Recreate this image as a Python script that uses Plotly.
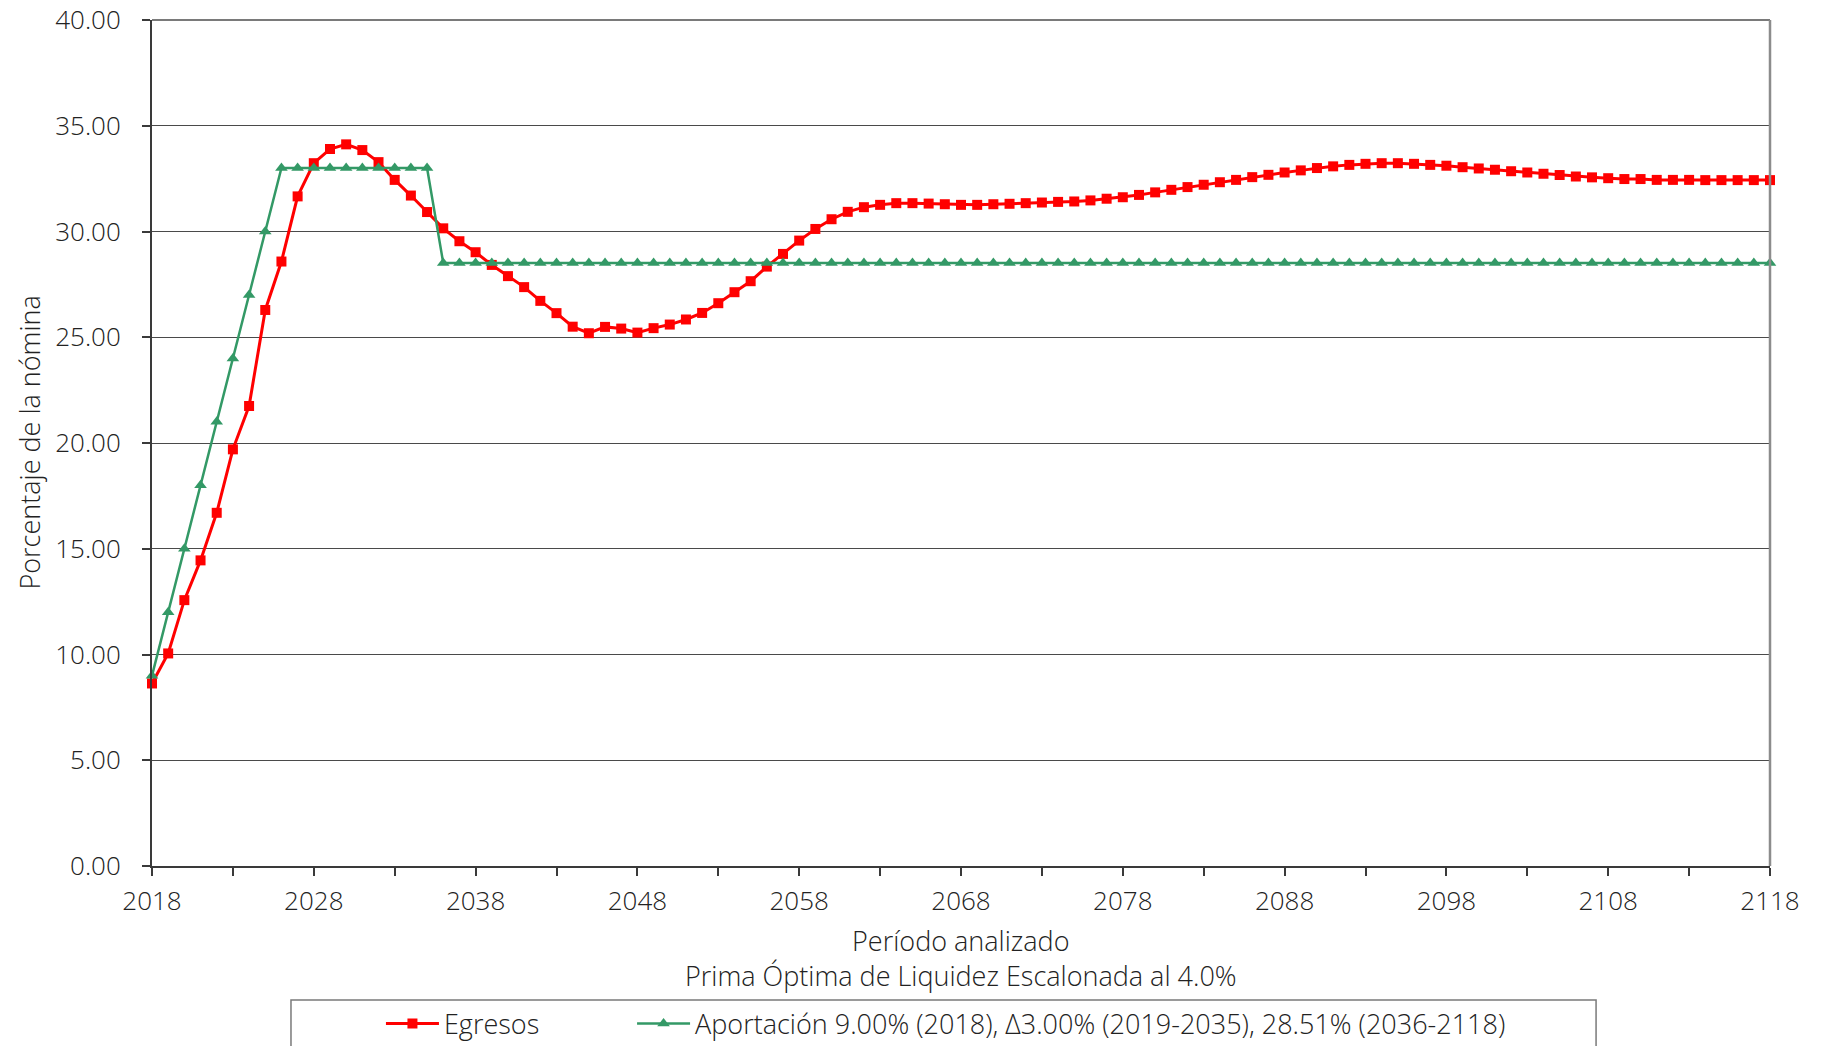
import plotly.graph_objects as go

# Años del período analizado
years = list(range(2018, 2119))

# Egresos como porcentaje de la nómina
egresos = [
    8.63, 10.05, 12.57, 14.45, 16.70, 19.70, 21.75, 26.29, 28.58, 31.66,
    33.23, 33.90, 34.12, 33.85, 33.28, 32.44, 31.70, 30.92, 30.15, 29.54,
    29.02, 28.42, 27.89, 27.37, 26.72, 26.14, 25.50, 25.19, 25.49, 25.41,
    25.22, 25.43, 25.60, 25.84, 26.15, 26.61, 27.13, 27.65, 28.34, 28.94,
    29.57, 30.12, 30.58, 30.93, 31.15, 31.26, 31.34, 31.34, 31.32, 31.29,
    31.26, 31.26, 31.29, 31.31, 31.34, 31.37, 31.40, 31.42, 31.47, 31.55,
    31.62, 31.73, 31.85, 31.97, 32.10, 32.21, 32.33, 32.44, 32.57, 32.68,
    32.79, 32.89, 33.00, 33.08, 33.15, 33.20, 33.23, 33.23, 33.20, 33.15,
    33.11, 33.04, 32.98, 32.92, 32.85, 32.79, 32.73, 32.67, 32.60, 32.56,
    32.52, 32.48, 32.48, 32.44, 32.44, 32.44, 32.43, 32.43, 32.43, 32.43,
    32.43,
]

# Aportación escalonada: 9.00% (2018), +3.00% anual hasta 33.00%, 28.51% desde 2036
aportacion = [
    9.00, 12.00, 15.00, 18.00, 21.00, 24.00, 27.00, 30.00, 33.00, 33.00,
    33.00, 33.00, 33.00, 33.00, 33.00, 33.00, 33.00, 33.00, 28.51, 28.51,
    28.51, 28.51, 28.51, 28.51, 28.51, 28.51, 28.51, 28.51, 28.51, 28.51,
    28.51, 28.51, 28.51, 28.51, 28.51, 28.51, 28.51, 28.51, 28.51, 28.51,
    28.51, 28.51, 28.51, 28.51, 28.51, 28.51, 28.51, 28.51, 28.51, 28.51,
    28.51, 28.51, 28.51, 28.51, 28.51, 28.51, 28.51, 28.51, 28.51, 28.51,
    28.51, 28.51, 28.51, 28.51, 28.51, 28.51, 28.51, 28.51, 28.51, 28.51,
    28.51, 28.51, 28.51, 28.51, 28.51, 28.51, 28.51, 28.51, 28.51, 28.51,
    28.51, 28.51, 28.51, 28.51, 28.51, 28.51, 28.51, 28.51, 28.51, 28.51,
    28.51, 28.51, 28.51, 28.51, 28.51, 28.51, 28.51, 28.51, 28.51, 28.51,
    28.51,
]

serie_egresos = "Egresos"
serie_aportacion = "Aportación 9.00% (2018), Δ3.00% (2019-2035), 28.51% (2036-2118)"
titulo_x = "Período analizado"
subtitulo_x = "Prima Óptima de Liquidez Escalonada al 4.0%"
titulo_y = "Porcentaje de la nómina"
x_ticks = [2018, 2028, 2038, 2048, 2058, 2068, 2078, 2088, 2098, 2108, 2118]
y_ticks = [0, 5, 10, 15, 20, 25, 30, 35, 40]

FONT = "Open Sans"
FS_TICK = 26
FS_TEXT = 27
TXT = "#222222"
AXIS = "#3a3a3a"


def txt_font(size=FS_TEXT):
    return dict(family=FONT, size=size, color=TXT, weight=300)


fig = go.Figure()
fig.add_trace(go.Scatter(
    x=years, y=egresos, name=serie_egresos, mode="lines+markers",
    line=dict(color="#ff0000", width=3),
    marker=dict(symbol="square", size=10, color="#ff0000"),
    cliponaxis=False, legend="legend",
))
fig.add_trace(go.Scatter(
    x=years, y=aportacion, name=serie_aportacion, mode="lines+markers",
    line=dict(color="#339966", width=2.5),
    marker=dict(symbol="triangle-up", size=11, color="#339966"),
    cliponaxis=False, legend="legend2",
))

legend_common = dict(
    orientation="h", xanchor="left", y=-0.1868, yanchor="middle",
    bgcolor="rgba(0,0,0,0)", borderwidth=0, itemwidth=53,
    font=txt_font(),
)

fig.update_layout(
    width=1823, height=1046,
    margin=dict(l=152, r=53, t=20, b=180, autoexpand=False),
    paper_bgcolor="white", plot_bgcolor="white",
    font=txt_font(),
    showlegend=True,
    legend=dict(x=0.1415, **legend_common),
    legend2=dict(x=0.2967, **legend_common),
    xaxis=dict(
        range=[2018, 2118], tickmode="array", tickvals=x_ticks,
        ticktext=[str(v) for v in x_ticks],
        showgrid=False, zeroline=False, automargin=False,
        showline=True, linecolor=AXIS, linewidth=2,
        ticks="outside", ticklen=8, tickwidth=1.5, tickcolor=AXIS,
        minor=dict(tickmode="linear", tick0=2018, dtick=5, ticks="outside",
                   ticklen=8, tickwidth=1.5, tickcolor=AXIS, showgrid=False),
        ticklabelstandoff=3,
        tickfont=txt_font(FS_TICK),
    ),
    yaxis=dict(
        range=[0, 40], tickmode="array", tickvals=y_ticks, tickformat=".2f",
        showgrid=True, gridcolor="#4a4a4a", gridwidth=1,
        zeroline=False, automargin=False,
        showline=True, linecolor=AXIS, linewidth=2,
        ticks="outside", ticklen=8, tickwidth=1.5, tickcolor=AXIS,
        ticklabelstandoff=16,
        tickfont=txt_font(FS_TICK),
    ),
    annotations=[
        dict(text=titulo_x + "<br>" + subtitulo_x, xref="paper", yref="paper",
             x=0.5, y=-0.1087, xanchor="center", yanchor="middle",
             align="center", showarrow=False, font=txt_font()),
        dict(text=titulo_y, xref="paper", yref="paper", x=-0.0763, y=0.5,
             xanchor="center", yanchor="middle", textangle=-90, showarrow=False,
             font=txt_font()),
    ],
    shapes=[
        # marco superior y derecho del área de trazado
        dict(type="line", xref="paper", yref="paper", x0=0, x1=1, y0=1, y1=1,
             line=dict(color="#7a7a7a", width=2)),
        dict(type="line", xref="paper", yref="paper", x0=1, x1=1, y0=0, y1=1,
             line=dict(color="#8c8c8c", width=2.5)),
        # recuadro de la leyenda
        dict(type="rect", xref="paper", yref="paper",
             x0=0.0859, x1=0.8925, y0=-0.1584, y1=-0.30,
             line=dict(color="#7a7a7a", width=1.5), fillcolor="rgba(0,0,0,0)"),
    ],
)

fig.write_html("out.html")
